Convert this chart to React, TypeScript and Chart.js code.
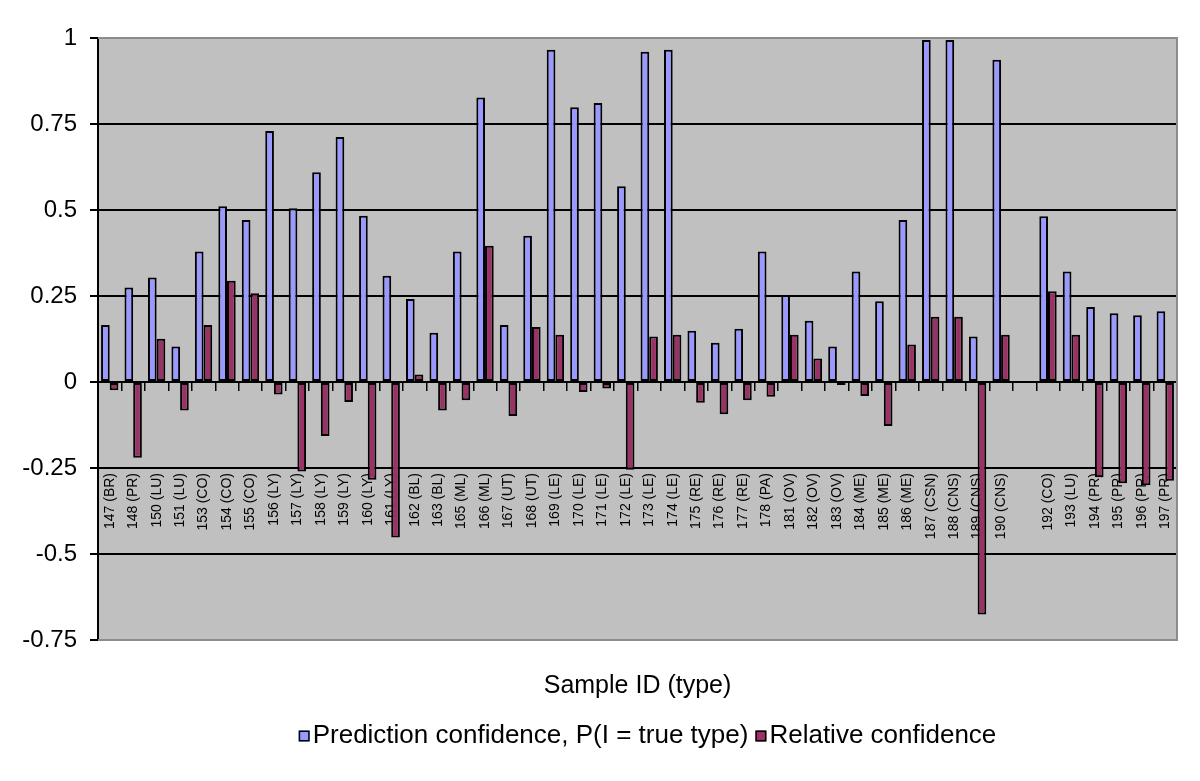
import React, { useEffect, useRef } from 'react';
import { Chart, registerables } from 'chart.js';

Chart.register(...registerables);

const categories = [
  '147 (BR)', '148 (PR)', '150 (LU)', '151 (LU)', '153 (CO)', '154 (CO)', '155 (CO)',
  '156 (LY)', '157 (LY)', '158 (LY)', '159 (LY)', '160 (LY)', '161 (LY)',
  '162 (BL)', '163 (BL)', '165 (ML)', '166 (ML)', '167 (UT)', '168 (UT)',
  '169 (LE)', '170 (LE)', '171 (LE)', '172 (LE)', '173 (LE)', '174 (LE)',
  '175 (RE)', '176 (RE)', '177 (RE)', '178 (PA)', '181 (OV)', '182 (OV)', '183 (OV)',
  '184 (ME)', '185 (ME)', '186 (ME)', '187 (CSN)', '188 (CNS)', '189 (CNS)', '190 (CNS)',
  '', '192 (CO)', '193 (LU)', '194 (PR)', '195 (PR)', '196 (PR)', '197 (PR)',
];

const predictionConfidence = [
  0.166, 0.275, 0.304, 0.103, 0.379, 0.511, 0.471,
  0.73, 0.505, 0.61, 0.712, 0.483, 0.309,
  0.241, 0.143, 0.379, 0.827, 0.166, 0.425,
  0.966, 0.799, 0.811, 0.569, 0.96, 0.966,
  0.149, 0.114, 0.155, 0.379, 0.253, 0.178, 0.103,
  0.321, 0.235, 0.471, 0.994, 0.994, 0.132, 0.937,
  null, 0.482, 0.321, 0.218, 0.2, 0.194, 0.206,
];

const relativeConfidence = [
  -0.024, -0.22, 0.126, -0.083, 0.166, 0.294, 0.258,
  -0.036, -0.26, -0.157, -0.058, -0.284, -0.452,
  0.022, -0.083, -0.053, 0.396, -0.099, 0.16,
  0.137, -0.029, -0.019, -0.255, 0.132, 0.137,
  -0.06, -0.094, -0.053, -0.043, 0.137, 0.068, -0.009,
  -0.041, -0.128, 0.109, 0.19, 0.19, -0.676, 0.137,
  null, 0.264, 0.137, -0.277, -0.294, -0.3, -0.287,
];

const seriesNames = ['Prediction confidence, P(I = true type)', 'Relative confidence'];
const seriesColors = ['#9999FF', '#993366'];
const yTickValues = [-0.75, -0.5, -0.25, 0, 0.25, 0.5, 0.75, 1];
const xAxisTitle = 'Sample ID (type)';

const FONT = '"Liberation Sans", Arial, Helvetica, sans-serif';

const framePlugin = {
  id: 'excelFrame',
  beforeDraw(chart: any) {
    const { ctx, chartArea } = chart;
    const { left, top, right, bottom } = chartArea;
    ctx.save();
    ctx.fillStyle = '#ffffff';
    ctx.fillRect(0, 0, chart.width, chart.height);
    ctx.fillStyle = '#C0C0C0';
    ctx.fillRect(left, top, right - left, bottom - top);
    ctx.restore();
  },
  beforeDatasetsDraw(chart: any) {
    const { ctx, chartArea } = chart;
    const { left, top, right, bottom } = chartArea;
    ctx.save();
    ctx.strokeStyle = '#8C8C8C';
    ctx.lineWidth = 2;
    ctx.beginPath();
    ctx.moveTo(left, top);
    ctx.lineTo(right, top);
    ctx.lineTo(right, bottom);
    ctx.lineTo(left, bottom);
    ctx.stroke();
    ctx.restore();
  },
  afterDraw(chart: any) {
    const { ctx, chartArea } = chart;
    const { left, right } = chartArea;
    ctx.save();
    // axis title
    ctx.fillStyle = '#000';
    ctx.font = `25px ${FONT}`;
    ctx.textAlign = 'center';
    ctx.textBaseline = 'middle';
    ctx.fillText(xAxisTitle, (left + right) / 2, 686);

    // legend
    ctx.font = `26px ${FONT}`;
    const box = 11;
    const gapBoxText = 3;
    const gapItems = 7;
    const widths = seriesNames.map((n) => box + gapBoxText + ctx.measureText(n).width);
    const total = widths.reduce((a, b) => a + b, 0) + gapItems * (seriesNames.length - 1);
    let x = (left + right) / 2 + 10 - total / 2;
    const cy = 736;
    ctx.textAlign = 'left';
    seriesNames.forEach((n, i) => {
      ctx.fillStyle = seriesColors[i];
      ctx.fillRect(x, cy - box / 2, box, box);
      ctx.strokeStyle = '#000';
      ctx.lineWidth = 1.5;
      ctx.strokeRect(x + 0.75, cy - box / 2 + 0.75, box - 1.5, box - 1.5);
      ctx.fillStyle = '#000';
      ctx.fillText(n, x + box + gapBoxText, cy);
      x += widths[i] + gapItems;
    });
    ctx.restore();
  },
};

export default function App() {
  const canvasRef = useRef<HTMLCanvasElement | null>(null);

  useEffect(() => {
    document.body.style.margin = '0';
    const canvas = canvasRef.current;
    if (!canvas) return;
    const chart = new Chart(canvas, {
      type: 'bar',
      data: {
        labels: categories,
        datasets: [
          {
            label: seriesNames[0],
            data: predictionConfidence,
            backgroundColor: seriesColors[0],
            borderColor: '#000',
            borderWidth: 2,
            borderSkipped: false,
            barPercentage: 1,
            categoryPercentage: 0.74,
          },
          {
            label: seriesNames[1],
            data: relativeConfidence,
            backgroundColor: seriesColors[1],
            borderColor: '#000',
            borderWidth: 2,
            borderSkipped: false,
            barPercentage: 1,
            categoryPercentage: 0.74,
          },
        ],
      },
      options: {
        responsive: false,
        animation: false,
        layout: { padding: { left: 0, top: 38, right: 23, bottom: 141 } },
        plugins: {
          legend: { display: false },
          tooltip: { enabled: false },
          title: { display: false },
        },
        scales: {
          x: {
            position: { y: 0 } as any,
            offset: true,
            grid: {
              display: true,
              drawOnChartArea: false,
              drawTicks: true,
              tickLength: 8,
              color: '#000',
              tickColor: '#000',
              lineWidth: 1.5,
              offset: true,
            },
            border: { display: true, color: '#000', width: 2 },
            ticks: {
              autoSkip: false,
              minRotation: 90,
              maxRotation: 90,
              padding: 83,
              color: '#000',
              font: { family: FONT, size: 14 },
            },
            afterFit: (s: any) => {
              s.height = 0;
              s.paddingLeft = 0;
              s.paddingRight = 0;
            },
          },
          y: {
            min: -0.75,
            max: 1,
            afterBuildTicks: (s: any) => {
              s.ticks = yTickValues.map((v) => ({ value: v }));
            },
            ticks: {
              callback: (v: any) => String(v),
              color: '#000',
              padding: 13,
              font: { family: FONT, size: 24 },
            },
            grid: {
              color: (c: any) =>
                c.tick && (c.tick.value === 1 || c.tick.value === -0.75) ? 'rgba(0,0,0,0)' : '#000',
              tickColor: '#000',
              lineWidth: 2,
              tickLength: 8,
              drawTicks: true,
            },
            border: { display: true, color: '#000', width: 2 },
            afterFit: (s: any) => {
              s.width = 98;
            },
          },
        },
      },
      plugins: [framePlugin],
    });
    return () => chart.destroy();
  }, []);

  return (
    <div style={{ width: 1200, height: 781 }}>
      <canvas ref={canvasRef} width={1200} height={781} style={{ display: 'block', width: 1200, height: 781 }} />
    </div>
  );
}
